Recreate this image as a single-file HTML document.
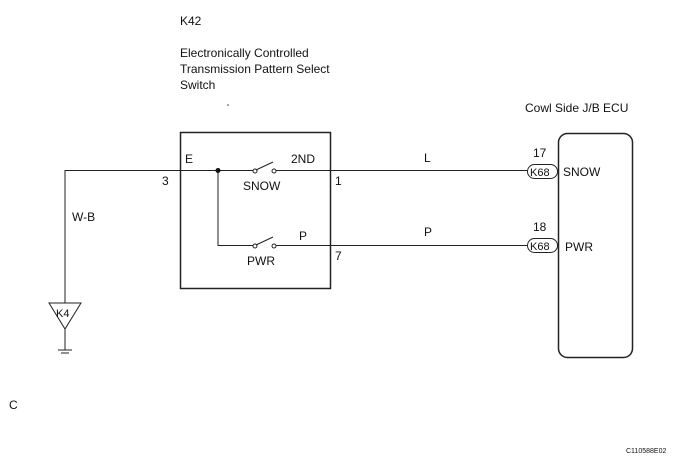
<!DOCTYPE html>
<html><head><style>
body{margin:0;background:#fff}
svg text{font-family:"Liberation Sans",sans-serif;font-size:12px;fill:#111}
</style></head><body>
<svg width="685" height="459" xmlns="http://www.w3.org/2000/svg">
<g stroke="#222" fill="none" stroke-width="1">
<rect x="180.5" y="132.5" width="150" height="156" stroke-width="1.5"/>
<rect x="558.5" y="133.5" width="74" height="224" rx="9" stroke-width="1.5"/>
<polyline points="65,303 65,170.5 253,170.5"/>
<line x1="276" y1="170.5" x2="527" y2="170.5"/>
<polyline points="218,170 218,245.5 253,245.5"/>
<line x1="276" y1="245.5" x2="527" y2="245.5"/>
<circle cx="255" cy="171" r="2"/><circle cx="274" cy="171" r="2"/>
<line x1="256" y1="170" x2="273" y2="162"/>
<circle cx="255" cy="246" r="2"/><circle cx="274" cy="246" r="2"/>
<line x1="256" y1="245" x2="273" y2="237"/>
<rect x="527.5" y="164.5" width="30" height="14" rx="7"/>
<rect x="527.5" y="238.5" width="30" height="14" rx="7"/>
<polygon points="49,303 81,303 65,329"/>
<line x1="65" y1="329" x2="65" y2="350"/>
<line x1="58" y1="350" x2="72" y2="350"/>
<line x1="61" y1="353" x2="69" y2="353"/>
</g>
<circle cx="218" cy="170.5" r="2.5" fill="#111"/>
<circle cx="228" cy="105" r="0.8" fill="#333"/>
<text x="180" y="25">K42</text>
<text x="180" y="57">Electronically Controlled</text>
<text x="180" y="73">Transmission Pattern Select</text>
<text x="180" y="89">Switch</text>
<text x="525" y="112">Cowl Side J/B ECU</text>
<text x="185" y="163">E</text>
<text x="162" y="185">3</text>
<text x="291" y="163">2ND</text>
<text x="335" y="185">1</text>
<text x="243" y="190">SNOW</text>
<text x="299" y="240">P</text>
<text x="335" y="260">7</text>
<text x="247" y="265">PWR</text>
<text x="72" y="221">W-B</text>
<text x="424" y="162">L</text>
<text x="424" y="236">P</text>
<text x="533" y="157">17</text>
<text x="533" y="231">18</text>
<text x="530" y="176" style="font-size:11px">K68</text>
<text x="530" y="250" style="font-size:11px">K68</text>
<text x="563" y="176">SNOW</text>
<text x="565" y="251">PWR</text>
<text x="56" y="317" style="font-size:11px">K4</text>
<text x="9" y="409">C</text>
<text x="626" y="453" style="font-size:7px">C110588E02</text>
</svg>
</body></html>
